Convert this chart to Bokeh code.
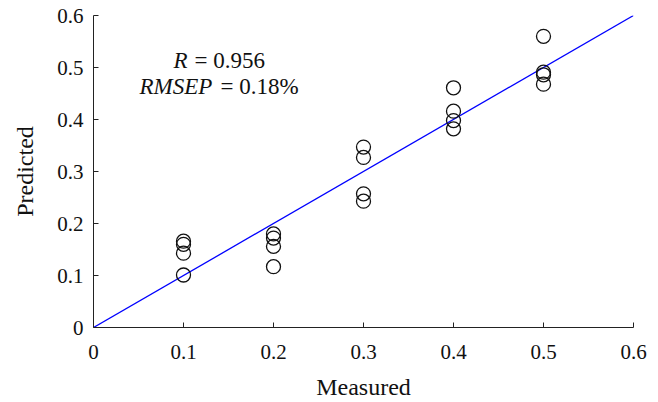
from bokeh.plotting import figure
from bokeh.models import Range1d, FixedTicker, Label
from bokeh.embed import file_html
from bokeh.resources import INLINE

# ---- data ----
measured = [0.1, 0.1, 0.1, 0.1,
            0.2, 0.2, 0.2, 0.2,
            0.3, 0.3, 0.3, 0.3,
            0.4, 0.4, 0.4, 0.4,
            0.5, 0.5, 0.5, 0.5]
predicted = [0.166, 0.160, 0.143, 0.101,
             0.180, 0.172, 0.156, 0.117,
             0.347, 0.327, 0.257, 0.243,
             0.461, 0.416, 0.398, 0.382,
             0.560, 0.491, 0.486, 0.468]
fit_x = [0.0, 0.6]
fit_y = [0.0, 0.6]
ticks = [0.0, 0.1, 0.2, 0.3, 0.4, 0.5, 0.6]
tick_labels = ["0", "0.1", "0.2", "0.3", "0.4", "0.5", "0.6"]
r_text = "0.956"
rmsep_text = "0.18%"

FONT = "Liberation Serif"
TXT = "#111111"

p = figure(frame_width=540, frame_height=312, output_backend="svg", toolbar_location=None,
           x_range=Range1d(0, 0.6), y_range=Range1d(0, 0.6),
           min_border_left=93, min_border_right=25, min_border_top=15, min_border_bottom=75)
p.outline_line_color = None
p.xgrid.visible = False
p.ygrid.visible = False
p.background_fill_color = "white"
p.border_fill_color = "white"

for ax in (p.xaxis[0], p.yaxis[0]):
    ax.ticker = FixedTicker(ticks=ticks)
    ax.major_label_overrides = {t: l for t, l in zip(ticks, tick_labels)}
    ax.major_tick_in = 5
    ax.major_tick_out = 0
    ax.minor_tick_line_color = None
    ax.axis_line_color = "#222222"
    ax.major_tick_line_color = "#222222"
    ax.major_label_text_font = FONT
    ax.major_label_text_font_size = "21px"
    ax.major_label_text_color = TXT
    ax.axis_label_text_font = FONT
    ax.axis_label_text_font_size = "24px"
    ax.axis_label_text_font_style = "normal"
    ax.axis_label_text_color = TXT

p.xaxis.axis_label = "Measured"
p.yaxis.axis_label = "Predicted"
p.xaxis.major_label_standoff = 17
p.yaxis.major_label_standoff = 10
p.xaxis.axis_label_standoff = 12
p.yaxis.axis_label_standoff = 16

p.line(fit_x, fit_y, line_color="#0000ff", line_width=1.3)
p.scatter(measured, predicted, marker="circle", size=14, fill_color=None,
          line_color="#111111", line_width=1.3)

labels = [
    ("R", 0.0889, 0.513, "italic"),
    ("= " + r_text, 0.1122, 0.513, "normal"),
    ("RMSEP", 0.0511, 0.463, "italic"),
    ("= " + rmsep_text, 0.1411, 0.463, "normal"),
]
for txt, x, y, style in labels:
    p.add_layout(Label(x=x, y=y, text=txt, text_font=FONT, text_font_size="23px",
                       text_font_style=style, text_color=TXT,
                       text_align="left", text_baseline="alphabetic"))

open("out.html", "w").write(file_html(p, INLINE))
